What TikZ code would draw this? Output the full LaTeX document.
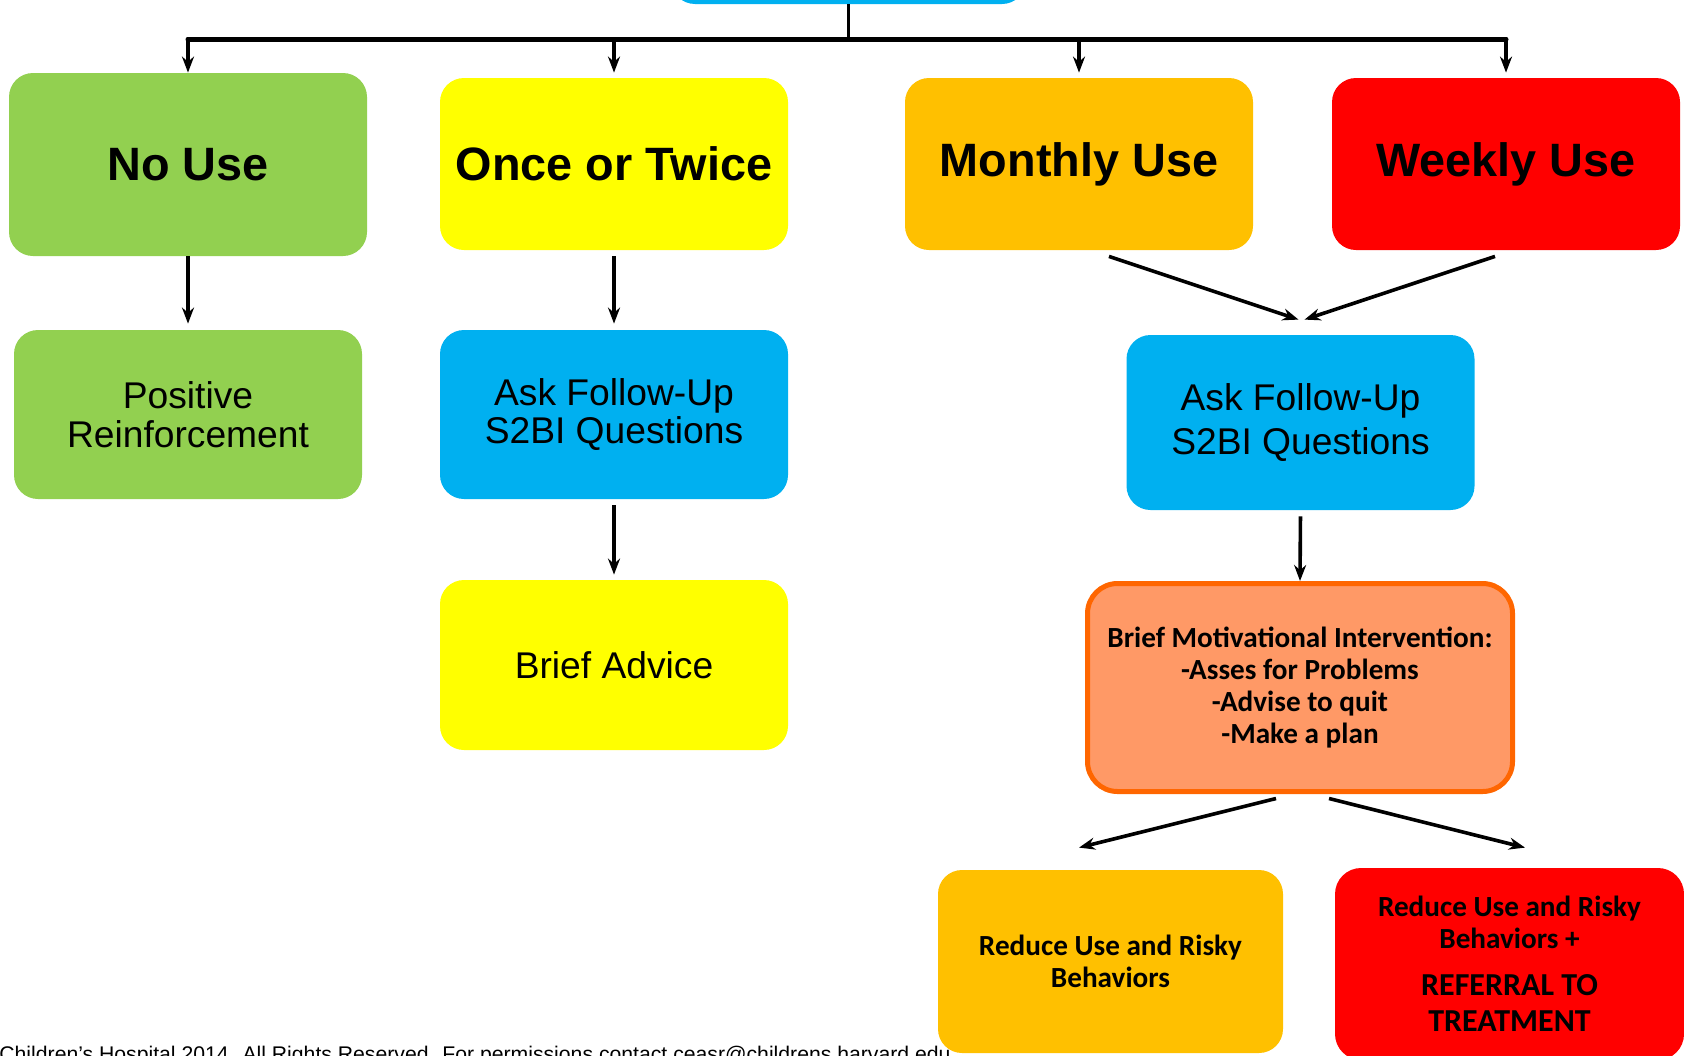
\documentclass[tikz,border=0pt]{standalone}
\usepackage{fontspec}
\setmainfont{Liberation Sans}
\newfontfamily\calibri{Carlito}
\usetikzlibrary{arrows.meta}
\definecolor{usegreen}{RGB}{146,208,80}
\definecolor{useyellow}{RGB}{255,255,0}
\definecolor{useorange}{RGB}{255,192,0}
\definecolor{usered}{RGB}{255,0,0}
\definecolor{askblue}{RGB}{0,176,240}
\definecolor{bmifill}{RGB}{255,153,102}
\definecolor{bmiedge}{RGB}{255,102,0}

\begin{document}
\begin{tikzpicture}[x=0.5pt, y=-0.5pt,
box/.style={rounded corners=12pt, align=center, inner sep=0pt},
head/.style={box, font=\fontsize{23.4}{28}\selectfont\bfseries, minimum width=174pt, minimum height=86pt},
plainbox/.style={box, font=\fontsize{18.6}{19.4}\selectfont, minimum width=174pt, minimum height=84.5pt},
calbox/.style={box, font=\calibri\bfseries\fontsize{14.6}{16.1}\selectfont},
link/.style={line width=1.8pt, -{Stealth[length=8pt,width=6pt]}},
]
\useasboundingbox (0,0) rectangle (1684,1055);

\node[anchor=base west, inner sep=0pt, font=\fontsize{10.6}{12}\selectfont] (footer) at (-1,1061)
  {Children’s Hospital 2014. All Rights Reserved. For permissions contact ceasr@childrens.harvard.edu};

\node[box, fill=askblue, minimum width=177.5pt, minimum height=40pt] (screen) at (848.5,-36) {};

\node[head, fill=usegreen, minimum width=179pt, minimum height=91.5pt] (nouse) at (188,164.5) {No Use};
\node[head, fill=useyellow] (once) at (614,164) {Once or Twice};
\node[head, fill=useorange] (monthly) at (1079,164) {Monthly Use};
\node[head, fill=usered] (weekly) at (1506,164) {Weekly Use};

\node[plainbox, fill=usegreen] (praise) at (188,414.5) {Positive\\Reinforcement};
\node[plainbox, fill=askblue] (askonce) at (614,414.5) {Ask Follow-Up\\S2BI Questions};
\node[plainbox, fill=useyellow, minimum height=85pt] (advice) at (614,665) {Brief Advice};
\node[plainbox, fill=askblue, minimum height=87.5pt, font=\fontsize{18.6}{22}\selectfont] (askmore) at (1300.5,422.5) {Ask Follow-Up\\S2BI Questions};

\node[calbox, fill=bmifill, draw=bmiedge, line width=2.5pt, rounded corners=15pt, minimum width=212.5pt, minimum height=104pt] (bmi) at (1300,687.5)
  {Brief Motivational Intervention:\\-Asses for Problems\\-Advise to quit\\-Make a plan};
\node[calbox, fill=useorange, minimum width=172.5pt, minimum height=91.5pt] (reduce) at (1110.5,961.5)
  {Reduce Use and Risky\\Behaviors};
\node[calbox, fill=usered, rounded corners=13pt, minimum width=174.5pt, minimum height=96pt] (referral) at (1509.5,964)
  {Reduce Use and Risky\\Behaviors +\\[7pt]\fontsize{16}{17.7}\selectfont REFERRAL TO\\[2.2pt]\fontsize{16}{17.7}\selectfont TREATMENT};

\coordinate (bar) at (screen.south |- 0,39);
\draw[line width=1.6pt] (screen.south) -- (bar);
\draw[line width=2.5pt, line cap=round] (bar -| nouse.north) -- (bar -| weekly.north);
\foreach \n/\s in {nouse/0pt, once/2.5pt, monthly/2.5pt, weekly/2.5pt}
  \draw[link, shorten >=\s] (bar -| \n.north) -- (\n.north);

\draw[link, shorten >=3pt] (nouse.south) -- (praise.north);
\draw[link, shorten <=3pt, shorten >=3pt] (once.south) -- (askonce.north);
\draw[link, shorten <=3pt, shorten >=2.5pt] (askonce.south) -- (advice.north);

\draw[link] ([xshift=15pt,yshift=-3pt]monthly.south) -- ([xshift=-1pt,yshift=7.5pt]askmore.north);
\draw[link] ([xshift=-5.5pt,yshift=-3pt]weekly.south) -- ([xshift=2pt,yshift=7.5pt]askmore.north);
\draw[link, shorten <=3pt] (askmore.south) -- (bmi.north);

\draw[link] ([xshift=-12pt,yshift=-2.25pt]bmi.south) -- ([xshift=-15.75pt,yshift=11pt]reduce.north);
\draw[link] ([xshift=14.5pt,yshift=-2.25pt]bmi.south) -- ([xshift=7.75pt,yshift=10pt]referral.north);
\end{tikzpicture}
\end{document}
